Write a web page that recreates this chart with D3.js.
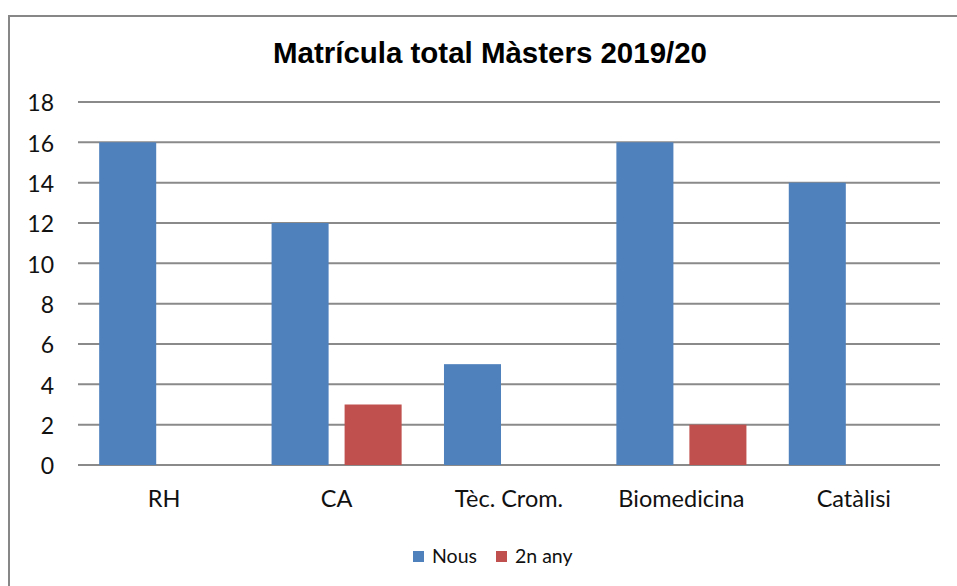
<!DOCTYPE html>
<html><head><meta charset="utf-8">
<script src="https://cdn.jsdelivr.net/npm/d3@7"></script>
<style>body{margin:0;background:#fff}svg{display:block}</style>
</head><body>
<script>
const categories = ["RH", "CA", "Tèc. Crom.", "Biomedicina", "Catàlisi"];
const seriesNames = ["Nous", "2n any"];
const nous = [16, 12, 5, 16, 14];
const segonAny = [0, 3, 0, 2, 0];
const yTicks = [0, 2, 4, 6, 8, 10, 12, 14, 16, 18];
const colors = ["#4F81BD", "#C0504D"];
const title = "Matrícula total Màsters 2019/20";

const W = 957, H = 586;
const FONT = "Lato, 'Open Sans', sans-serif";
const svg = d3.select("body").append("svg").attr("width", W).attr("height", H);

// outer frame
svg.append("rect").attr("x", 9).attr("y", 16).attr("width", W + 10).attr("height", H + 10)
  .attr("fill", "none").attr("stroke", "#878787").attr("stroke-width", 2);

const pLeft = 78, pRight = 940, pTop = 102, pBottom = 465;
const x = d3.scaleBand().domain(categories).range([pLeft, pRight]).paddingInner(0).paddingOuter(0);
const inner = d3.scaleBand().domain(seriesNames).range([0, x.bandwidth()]).paddingInner(0.219).paddingOuter(0.29);
const y = d3.scaleLinear().domain([0, 18]).range([pBottom, pTop]);

// gridlines
svg.append("g").selectAll("line").data(yTicks).join("line")
  .attr("x1", pLeft).attr("x2", pRight)
  .attr("y1", d => y(d)).attr("y2", d => y(d))
  .attr("stroke", "#8a8a8a").attr("stroke-width", 2);

// y axis labels
const yAxis = d3.axisLeft(y).tickValues(yTicks).tickSize(0).tickPadding(0);
const ya = svg.append("g").attr("transform", `translate(54,0)`).call(yAxis);
ya.select(".domain").remove();
ya.selectAll("text").attr("font-family", FONT).attr("font-size", 23).attr("fill", "#111")
  .attr("text-anchor", "end").attr("dy", "0.38em");

// bars
const data = categories.map((c, i) => ({c, vals: [nous[i], segonAny[i]]}));
const g = svg.append("g");
data.forEach(d => {
  d.vals.forEach((v, j) => {
    if (v <= 0) return;
    g.append("rect")
      .attr("x", x(d.c) + inner(seriesNames[j]))
      .attr("width", inner.bandwidth())
      .attr("y", y(v))
      .attr("height", y(0) - y(v))
      .attr("fill", colors[j]);
  });
});

// x axis labels
const xAxis = d3.axisBottom(x).tickSize(0).tickPadding(0);
const xa = svg.append("g").attr("transform", `translate(0,507)`).call(xAxis);
xa.select(".domain").remove();
xa.selectAll("text").attr("font-family", FONT).attr("font-size", 23.5).attr("fill", "#111").attr("dy", 0);

// title
svg.append("text").attr("x", 273).attr("y", 63).attr("text-anchor", "start")
  .attr("font-family", "'Liberation Sans', Arial, sans-serif")
  .attr("font-weight", "bold").attr("font-size", 30).attr("fill", "#000")
  .attr("textLength", 434).attr("lengthAdjust", "spacingAndGlyphs").text(title);

// legend
const legendX = [413, 496];
seriesNames.forEach((s, j) => {
  svg.append("rect").attr("x", legendX[j]).attr("y", 551).attr("width", 11).attr("height", 11).attr("fill", colors[j]);
  svg.append("text").attr("x", legendX[j] + 19).attr("y", 563)
    .attr("font-family", FONT).attr("font-size", 19.5).attr("fill", "#111").text(s);
});
</script>
</body></html>
